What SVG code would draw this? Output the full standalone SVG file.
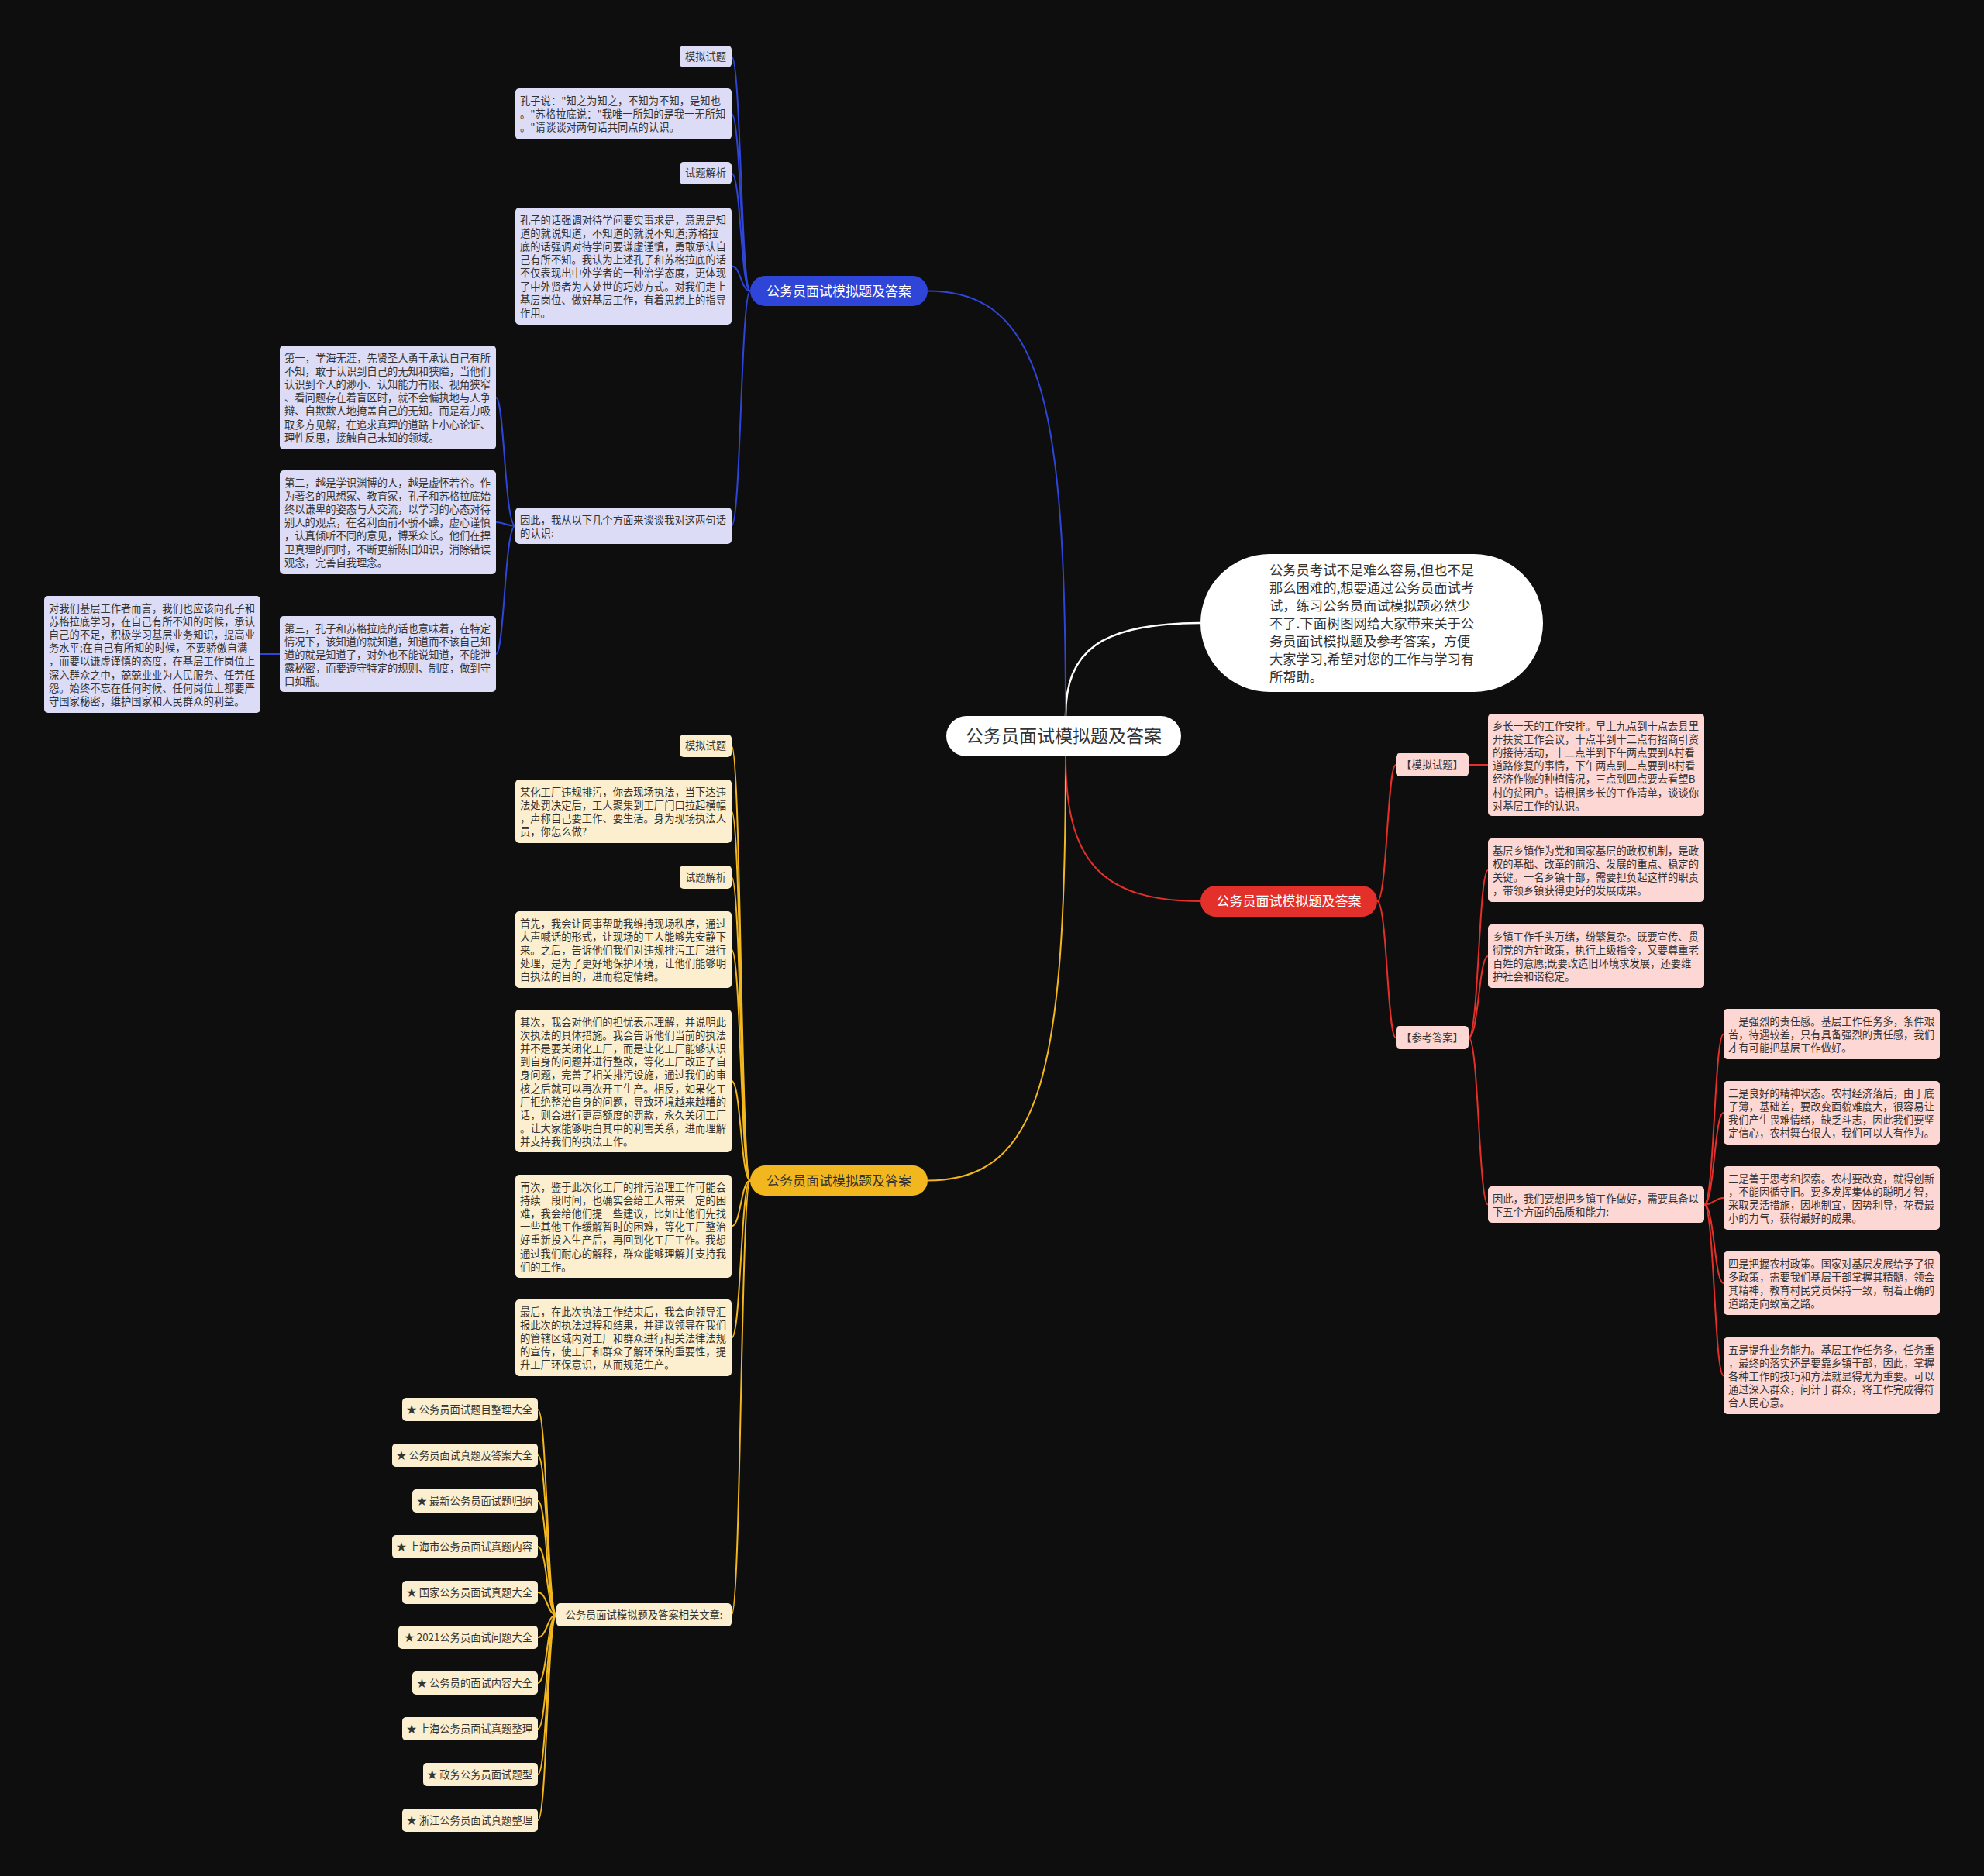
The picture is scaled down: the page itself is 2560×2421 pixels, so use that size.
<svg xmlns="http://www.w3.org/2000/svg" width="2560" height="2421" viewBox="0 0 2560 2421">
<style>
text{font-family:"Noto Sans CJK SC","Noto Sans",sans-serif;fill:#333;}
.t{font-size:13.3px;}
.c{text-anchor:middle;}
.e{text-anchor:end;}
.bb{fill:#dcdcf7;}
.yb{fill:#fbefcf;}
.rb{fill:#fdd7d4;}
.lb{stroke:#2f45d8;stroke-width:2;fill:none;}
.ly{stroke:#f2b61f;stroke-width:2;fill:none;}
.lr{stroke:#e4302a;stroke-width:2;fill:none;}
.lw{stroke:#ffffff;stroke-width:2.5;fill:none;}
.main{font-size:17px;}
</style>
<rect x="0" y="0" width="2560" height="2421" fill="#0e0e0e"/>

<g id="connectors">
<path class="lw" d="M1375,924 C1375,840 1420,804 1549,804"/>
<path class="lb" d="M1375,924 C1375,520 1345,375.5 1197,375.5" stroke-width="2.5"/>
<path class="ly" d="M1375,976 C1375,1380 1345,1523.5 1197,1523.5" stroke-width="2.5"/>
<path class="lr" d="M1375,976 C1375,1110 1420,1163 1549,1163" stroke-width="2.5"/>

<path class="lb" d="M968,375.5 C956,375.5 956,73 944,73"/>
<path class="lb" d="M968,375.5 C956,375.5 956,147 944,147"/>
<path class="lb" d="M968,375.5 C956,375.5 956,223.5 944,223.5"/>
<path class="lb" d="M968,375.5 C956,375.5 956,343.5 944,343.5"/>
<path class="lb" d="M968,375.5 C956,375.5 956,678.5 944,678.5"/>
<path class="lb" d="M665,678.5 C651,678.5 651,513 640,513"/>
<path class="lb" d="M665,678.5 C651,678.5 651,674 640,674"/>
<path class="lb" d="M665,678.5 C651,678.5 651,844 640,844"/>
<path class="lb" d="M361,844 L336,844"/>

<path class="ly" d="M968,1523.5 C956,1523.5 956,962.5 944,962.5"/>
<path class="ly" d="M968,1523.5 C956,1523.5 956,1047 944,1047"/>
<path class="ly" d="M968,1523.5 C956,1523.5 956,1132 944,1132"/>
<path class="ly" d="M968,1523.5 C956,1523.5 956,1225.5 944,1225.5"/>
<path class="ly" d="M968,1523.5 C956,1523.5 956,1395 944,1395"/>
<path class="ly" d="M968,1523.5 C956,1523.5 956,1582.5 944,1582.5"/>
<path class="ly" d="M968,1523.5 C956,1523.5 956,1726.5 944,1726.5"/>
<path class="ly" d="M968,1523.5 C956,1523.5 956,2084 944,2084"/>
<path class="ly" d="M718,2084 C706,2084 706,1819 694,1819"/>
<path class="ly" d="M718,2084 C706,2084 706,1878 694,1878"/>
<path class="ly" d="M718,2084 C706,2084 706,1937 694,1937"/>
<path class="ly" d="M718,2084 C706,2084 706,1996 694,1996"/>
<path class="ly" d="M718,2084 C706,2084 706,2055 694,2055"/>
<path class="ly" d="M718,2084 C706,2084 706,2113 694,2113"/>
<path class="ly" d="M718,2084 C706,2084 706,2172 694,2172"/>
<path class="ly" d="M718,2084 C706,2084 706,2231 694,2231"/>
<path class="ly" d="M718,2084 C706,2084 706,2290 694,2290"/>
<path class="ly" d="M718,2084 C706,2084 706,2349 694,2349"/>

<path class="lr" d="M1777,1163 C1790,1163 1790,987 1801,987"/>
<path class="lr" d="M1777,1163 C1790,1163 1790,1339 1801,1339"/>
<path class="lr" d="M1895,987 L1920,987"/>
<path class="lr" d="M1895,1339 C1908,1339 1908,1123 1920,1123"/>
<path class="lr" d="M1895,1339 C1908,1339 1908,1234 1920,1234"/>
<path class="lr" d="M1895,1339 C1908,1339 1908,1554.5 1920,1554.5"/>
<path class="lr" d="M2199,1554.5 C2212,1554.5 2212,1334.5 2224,1334.5"/>
<path class="lr" d="M2199,1554.5 C2212,1554.5 2212,1436 2224,1436"/>
<path class="lr" d="M2199,1554.5 C2212,1554.5 2212,1546 2224,1546"/>
<path class="lr" d="M2199,1554.5 C2212,1554.5 2212,1656 2224,1656"/>
<path class="lr" d="M2199,1554.5 C2212,1554.5 2212,1775.5 2224,1775.5"/>
</g>

<g id="center">
<rect x="1221" y="924" width="303" height="52" rx="26" fill="#ffffff"/>
<text x="1372.5" y="958" class="c" font-size="23">公务员面试模拟题及答案</text>
</g>

<g id="intro">
<rect x="1549" y="715" width="442" height="178" rx="89" fill="#ffffff"/>
<text font-size="17.3">
<tspan x="1638" y="742">公务员考试不是难么容易,但也不是</tspan>
<tspan x="1638" y="765">那么困难的,想要通过公务员面试考</tspan>
<tspan x="1638" y="788">试，练习公务员面试模拟题必然少</tspan>
<tspan x="1638" y="811">不了.下面树图网给大家带来关于公</tspan>
<tspan x="1638" y="834">务员面试模拟题及参考答案，方便</tspan>
<tspan x="1638" y="857">大家学习,希望对您的工作与学习有</tspan>
<tspan x="1638" y="880">所帮助。</tspan>
</text>
</g>

<!-- Blue branch -->
<g id="blue-main">
<rect x="968" y="356" width="229" height="39" rx="19.5" fill="#2f45d8"/>
<text x="1082.5" y="381.5" class="c main" style="fill:#ffffff">公务员面试模拟题及答案</text>
</g>
<g id="b-m1">
<rect class="bb" x="877" y="59" width="67" height="28" rx="5"/>
<text class="t c" x="910.5" y="78">模拟试题</text>
</g>
<g id="b-q">
<rect class="bb" x="665" y="114" width="279" height="66" rx="5"/>
<text class="t">
<tspan x="671" y="134.5">孔子说："知之为知之，不知为不知，是知也</tspan>
<tspan x="671" y="151.7">。"苏格拉底说："我唯一所知的是我一无所知</tspan>
<tspan x="671" y="168.9">。"请谈谈对两句话共同点的认识。</tspan>
</text>
</g>
<g id="b-a1">
<rect class="bb" x="877" y="209" width="67" height="29" rx="5"/>
<text class="t c" x="910.5" y="228">试题解析</text>
</g>
<g id="b-ans">
<rect class="bb" x="665" y="268" width="279" height="151" rx="5"/>
<text class="t">
<tspan x="671" y="288.5">孔子的话强调对待学问要实事求是，意思是知</tspan>
<tspan x="671" y="305.7">道的就说知道，不知道的就说不知道;苏格拉</tspan>
<tspan x="671" y="322.9">底的话强调对待学问要谦虚谨慎，勇敢承认自</tspan>
<tspan x="671" y="340.1">己有所不知。我认为上述孔子和苏格拉底的话</tspan>
<tspan x="671" y="357.3">不仅表现出中外学者的一种治学态度，更体现</tspan>
<tspan x="671" y="374.5">了中外贤者为人处世的巧妙方式。对我们走上</tspan>
<tspan x="671" y="391.7">基层岗位、做好基层工作，有着思想上的指导</tspan>
<tspan x="671" y="408.9">作用。</tspan>
</text>
</g>
<g id="b-thus">
<rect class="bb" x="665" y="655" width="279" height="47" rx="5"/>
<text class="t">
<tspan x="671" y="675.5">因此，我从以下几个方面来谈谈我对这两句话</tspan>
<tspan x="671" y="692.7">的认识:</tspan>
</text>
</g>
<g id="b-1">
<rect class="bb" x="361" y="446" width="279" height="134" rx="5"/>
<text class="t">
<tspan x="367" y="466.5">第一，学海无涯，先贤圣人勇于承认自己有所</tspan>
<tspan x="367" y="483.7">不知，敢于认识到自己的无知和狭隘，当他们</tspan>
<tspan x="367" y="500.9">认识到个人的渺小、认知能力有限、视角狭窄</tspan>
<tspan x="367" y="518.1">、看问题存在着盲区时，就不会偏执地与人争</tspan>
<tspan x="367" y="535.3">辩、自欺欺人地掩盖自己的无知。而是着力吸</tspan>
<tspan x="367" y="552.5">取多方见解，在追求真理的道路上小心论证、</tspan>
<tspan x="367" y="569.7">理性反思，接触自己未知的领域。</tspan>
</text>
</g>
<g id="b-2">
<rect class="bb" x="361" y="607" width="279" height="134" rx="5"/>
<text class="t">
<tspan x="367" y="627.5">第二，越是学识渊博的人，越是虚怀若谷。作</tspan>
<tspan x="367" y="644.7">为著名的思想家、教育家，孔子和苏格拉底始</tspan>
<tspan x="367" y="661.9">终以谦卑的姿态与人交流，以学习的心态对待</tspan>
<tspan x="367" y="679.1">别人的观点，在名利面前不骄不躁，虚心谨慎</tspan>
<tspan x="367" y="696.3">，认真倾听不同的意见，博采众长。他们在捍</tspan>
<tspan x="367" y="713.5">卫真理的同时，不断更新陈旧知识，消除错误</tspan>
<tspan x="367" y="730.7">观念，完善自我理念。</tspan>
</text>
</g>
<g id="b-3">
<rect class="bb" x="361" y="795" width="279" height="98" rx="5"/>
<text class="t">
<tspan x="367" y="815.5">第三，孔子和苏格拉底的话也意味着，在特定</tspan>
<tspan x="367" y="832.7">情况下，该知道的就知道，知道而不该自己知</tspan>
<tspan x="367" y="849.9">道的就是知道了，对外也不能说知道，不能泄</tspan>
<tspan x="367" y="867.1">露秘密，而要遵守特定的规则、制度，做到守</tspan>
<tspan x="367" y="884.3">口如瓶。</tspan>
</text>
</g>
<g id="b-31">
<rect class="bb" x="57" y="769" width="279" height="151" rx="5"/>
<text class="t">
<tspan x="63" y="789.5">对我们基层工作者而言，我们也应该向孔子和</tspan>
<tspan x="63" y="806.7">苏格拉底学习，在自己有所不知的时候，承认</tspan>
<tspan x="63" y="823.9">自己的不足，积极学习基层业务知识，提高业</tspan>
<tspan x="63" y="841.1">务水平;在自己有所知的时候，不要骄傲自满</tspan>
<tspan x="63" y="858.3">，而要以谦虚谨慎的态度，在基层工作岗位上</tspan>
<tspan x="63" y="875.5">深入群众之中，兢兢业业为人民服务、任劳任</tspan>
<tspan x="63" y="892.7">怨。始终不忘在任何时候、任何岗位上都要严</tspan>
<tspan x="63" y="909.9">守国家秘密，维护国家和人民群众的利益。</tspan>
</text>
</g>

<!-- Yellow branch -->
<g id="yellow-main">
<rect x="968" y="1504" width="229" height="39" rx="19.5" fill="#f2b61f"/>
<text x="1082.5" y="1529.5" class="c main">公务员面试模拟题及答案</text>
</g>
<g id="y-m1">
<rect class="yb" x="877" y="948" width="67" height="29" rx="5"/>
<text class="t c" x="910.5" y="967">模拟试题</text>
</g>
<g id="y-q">
<rect class="yb" x="665" y="1006" width="279" height="82" rx="5"/>
<text class="t">
<tspan x="671" y="1026.5">某化工厂违规排污，你去现场执法，当下达违</tspan>
<tspan x="671" y="1043.7">法处罚决定后，工人聚集到工厂门口拉起横幅</tspan>
<tspan x="671" y="1060.9">，声称自己要工作、要生活。身为现场执法人</tspan>
<tspan x="671" y="1078.1">员，你怎么做?</tspan>
</text>
</g>
<g id="y-a1">
<rect class="yb" x="877" y="1117" width="67" height="30" rx="5"/>
<text class="t c" x="910.5" y="1137">试题解析</text>
</g>
<g id="y-1">
<rect class="yb" x="665" y="1176" width="279" height="99" rx="5"/>
<text class="t">
<tspan x="671" y="1196.5">首先，我会让同事帮助我维持现场秩序，通过</tspan>
<tspan x="671" y="1213.7">大声喊话的形式，让现场的工人能够先安静下</tspan>
<tspan x="671" y="1230.9">来。之后，告诉他们我们对违规排污工厂进行</tspan>
<tspan x="671" y="1248.1">处理，是为了更好地保护环境，让他们能够明</tspan>
<tspan x="671" y="1265.3">白执法的目的，进而稳定情绪。</tspan>
</text>
</g>
<g id="y-2">
<rect class="yb" x="665" y="1303" width="279" height="184" rx="5"/>
<text class="t">
<tspan x="671" y="1323.5">其次，我会对他们的担忧表示理解，并说明此</tspan>
<tspan x="671" y="1340.7">次执法的具体措施。我会告诉他们当前的执法</tspan>
<tspan x="671" y="1357.9">并不是要关闭化工厂，而是让化工厂能够认识</tspan>
<tspan x="671" y="1375.1">到自身的问题并进行整改，等化工厂改正了自</tspan>
<tspan x="671" y="1392.3">身问题，完善了相关排污设施，通过我们的审</tspan>
<tspan x="671" y="1409.5">核之后就可以再次开工生产。相反，如果化工</tspan>
<tspan x="671" y="1426.7">厂拒绝整治自身的问题，导致环境越来越糟的</tspan>
<tspan x="671" y="1443.9">话，则会进行更高额度的罚款，永久关闭工厂</tspan>
<tspan x="671" y="1461.1">。让大家能够明白其中的利害关系，进而理解</tspan>
<tspan x="671" y="1478.3">并支持我们的执法工作。</tspan>
</text>
</g>
<g id="y-3">
<rect class="yb" x="665" y="1516" width="279" height="133" rx="5"/>
<text class="t">
<tspan x="671" y="1536.5">再次，鉴于此次化工厂的排污治理工作可能会</tspan>
<tspan x="671" y="1553.7">持续一段时间，也确实会给工人带来一定的困</tspan>
<tspan x="671" y="1570.9">难，我会给他们提一些建议，比如让他们先找</tspan>
<tspan x="671" y="1588.1">一些其他工作缓解暂时的困难，等化工厂整治</tspan>
<tspan x="671" y="1605.3">好重新投入生产后，再回到化工厂工作。我想</tspan>
<tspan x="671" y="1622.5">通过我们耐心的解释，群众能够理解并支持我</tspan>
<tspan x="671" y="1639.7">们的工作。</tspan>
</text>
</g>
<g id="y-4">
<rect class="yb" x="665" y="1677" width="279" height="99" rx="5"/>
<text class="t">
<tspan x="671" y="1697.5">最后，在此次执法工作结束后，我会向领导汇</tspan>
<tspan x="671" y="1714.7">报此次的执法过程和结果，并建议领导在我们</tspan>
<tspan x="671" y="1731.9">的管辖区域内对工厂和群众进行相关法律法规</tspan>
<tspan x="671" y="1749.1">的宣传，使工厂和群众了解环保的重要性，提</tspan>
<tspan x="671" y="1766.3">升工厂环保意识，从而规范生产。</tspan>
</text>
</g>
<g id="y-rel">
<rect class="yb" x="718" y="2069" width="226" height="30" rx="5"/>
<text class="t c" x="831" y="2089">公务员面试模拟题及答案相关文章:</text>
</g>
<g id="y-r1"><rect class="yb" x="519" y="1804" width="175" height="30" rx="5"/><text class="t e" x="687" y="1824">★ 公务员面试题目整理大全</text></g>
<g id="y-r2"><rect class="yb" x="506" y="1863" width="188" height="30" rx="5"/><text class="t e" x="687" y="1883">★ 公务员面试真题及答案大全</text></g>
<g id="y-r3"><rect class="yb" x="532" y="1922" width="162" height="30" rx="5"/><text class="t e" x="687" y="1942">★ 最新公务员面试题归纳</text></g>
<g id="y-r4"><rect class="yb" x="506" y="1981" width="188" height="30" rx="5"/><text class="t e" x="687" y="2001">★ 上海市公务员面试真题内容</text></g>
<g id="y-r5"><rect class="yb" x="519" y="2040" width="175" height="30" rx="5"/><text class="t e" x="687" y="2060">★ 国家公务员面试真题大全</text></g>
<g id="y-r6"><rect class="yb" x="514" y="2098" width="180" height="30" rx="5"/><text class="t e" x="687" y="2118">★ 2021公务员面试问题大全</text></g>
<g id="y-r7"><rect class="yb" x="532" y="2157" width="162" height="30" rx="5"/><text class="t e" x="687" y="2177">★ 公务员的面试内容大全</text></g>
<g id="y-r8"><rect class="yb" x="519" y="2216" width="175" height="30" rx="5"/><text class="t e" x="687" y="2236">★ 上海公务员面试真题整理</text></g>
<g id="y-r9"><rect class="yb" x="546" y="2275" width="148" height="30" rx="5"/><text class="t e" x="687" y="2295">★ 政务公务员面试题型</text></g>
<g id="y-r10"><rect class="yb" x="519" y="2334" width="175" height="30" rx="5"/><text class="t e" x="687" y="2354">★ 浙江公务员面试真题整理</text></g>

<!-- Red branch -->
<g id="red-main">
<rect x="1549" y="1143" width="228" height="40" rx="20" fill="#e4302a"/>
<text x="1663" y="1169" class="c main" style="fill:#ffffff">公务员面试模拟题及答案</text>
</g>
<g id="r-m1">
<rect class="rb" x="1801" y="972" width="94" height="30" rx="5"/>
<text class="t c" x="1848" y="992">【模拟试题】</text>
</g>
<g id="r-q">
<rect class="rb" x="1920" y="921" width="279" height="132" rx="5"/>
<text class="t">
<tspan x="1926" y="941.5">乡长一天的工作安排。早上九点到十点去县里</tspan>
<tspan x="1926" y="958.7">开扶贫工作会议，十点半到十二点有招商引资</tspan>
<tspan x="1926" y="975.9">的接待活动，十二点半到下午两点要到A村看</tspan>
<tspan x="1926" y="993.1">道路修复的事情，下午两点到三点要到B村看</tspan>
<tspan x="1926" y="1010.3">经济作物的种植情况，三点到四点要去看望B</tspan>
<tspan x="1926" y="1027.5">村的贫困户。请根据乡长的工作清单，谈谈你</tspan>
<tspan x="1926" y="1044.7">对基层工作的认识。</tspan>
</text>
</g>
<g id="r-a1">
<rect class="rb" x="1801" y="1324" width="94" height="30" rx="5"/>
<text class="t c" x="1848" y="1344">【参考答案】</text>
</g>
<g id="r-1">
<rect class="rb" x="1920" y="1082" width="279" height="82" rx="5"/>
<text class="t">
<tspan x="1926" y="1102.5">基层乡镇作为党和国家基层的政权机制，是政</tspan>
<tspan x="1926" y="1119.7">权的基础、改革的前沿、发展的重点、稳定的</tspan>
<tspan x="1926" y="1136.9">关键。一名乡镇干部，需要担负起这样的职责</tspan>
<tspan x="1926" y="1154.1">，带领乡镇获得更好的发展成果。</tspan>
</text>
</g>
<g id="r-2">
<rect class="rb" x="1920" y="1193" width="279" height="82" rx="5"/>
<text class="t">
<tspan x="1926" y="1213.5">乡镇工作千头万绪，纷繁复杂。既要宣传、贯</tspan>
<tspan x="1926" y="1230.7">彻党的方针政策，执行上级指令，又要尊重老</tspan>
<tspan x="1926" y="1247.9">百姓的意愿;既要改造旧环境求发展，还要维</tspan>
<tspan x="1926" y="1265.1">护社会和谐稳定。</tspan>
</text>
</g>
<g id="r-thus">
<rect class="rb" x="1920" y="1531" width="279" height="47" rx="5"/>
<text class="t">
<tspan x="1926" y="1551.5">因此，我们要想把乡镇工作做好，需要具备以</tspan>
<tspan x="1926" y="1568.7">下五个方面的品质和能力:</tspan>
</text>
</g>
<g id="r-t1">
<rect class="rb" x="2224" y="1302" width="279" height="65" rx="5"/>
<text class="t">
<tspan x="2230" y="1322.5">一是强烈的责任感。基层工作任务多，条件艰</tspan>
<tspan x="2230" y="1339.7">苦，待遇较差，只有具备强烈的责任感，我们</tspan>
<tspan x="2230" y="1356.9">才有可能把基层工作做好。</tspan>
</text>
</g>
<g id="r-t2">
<rect class="rb" x="2224" y="1395" width="279" height="82" rx="5"/>
<text class="t">
<tspan x="2230" y="1415.5">二是良好的精神状态。农村经济落后，由于底</tspan>
<tspan x="2230" y="1432.7">子薄，基础差，要改变面貌难度大，很容易让</tspan>
<tspan x="2230" y="1449.9">我们产生畏难情绪，缺乏斗志，因此我们要坚</tspan>
<tspan x="2230" y="1467.1">定信心，农村舞台很大，我们可以大有作为。</tspan>
</text>
</g>
<g id="r-t3">
<rect class="rb" x="2224" y="1505" width="279" height="82" rx="5"/>
<text class="t">
<tspan x="2230" y="1525.5">三是善于思考和探索。农村要改变，就得创新</tspan>
<tspan x="2230" y="1542.7">，不能因循守旧。要多发挥集体的聪明才智，</tspan>
<tspan x="2230" y="1559.9">采取灵活措施，因地制宜，因势利导，花费最</tspan>
<tspan x="2230" y="1577.1">小的力气，获得最好的成果。</tspan>
</text>
</g>
<g id="r-t4">
<rect class="rb" x="2224" y="1615" width="279" height="82" rx="5"/>
<text class="t">
<tspan x="2230" y="1635.5">四是把握农村政策。国家对基层发展给予了很</tspan>
<tspan x="2230" y="1652.7">多政策，需要我们基层干部掌握其精髓，领会</tspan>
<tspan x="2230" y="1669.9">其精神，教育村民党员保持一致，朝着正确的</tspan>
<tspan x="2230" y="1687.1">道路走向致富之路。</tspan>
</text>
</g>
<g id="r-t5">
<rect class="rb" x="2224" y="1726" width="279" height="99" rx="5"/>
<text class="t">
<tspan x="2230" y="1746.5">五是提升业务能力。基层工作任务多，任务重</tspan>
<tspan x="2230" y="1763.7">，最终的落实还是要靠乡镇干部，因此，掌握</tspan>
<tspan x="2230" y="1780.9">各种工作的技巧和方法就显得尤为重要。可以</tspan>
<tspan x="2230" y="1798.1">通过深入群众，问计于群众，将工作完成得符</tspan>
<tspan x="2230" y="1815.3">合人民心意。</tspan>
</text>
</g>
</svg>
